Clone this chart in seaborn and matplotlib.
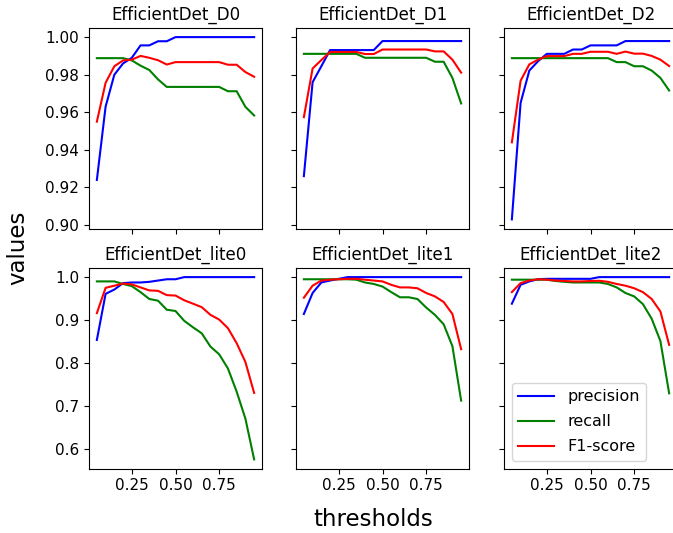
import matplotlib
matplotlib.use("Agg")
import matplotlib.pyplot as plt
import seaborn as sns
import pandas as pd

# Detection thresholds shared by every model
thresholds = [0.05, 0.10, 0.15, 0.20, 0.25, 0.30, 0.35, 0.40, 0.45, 0.50,
              0.55, 0.60, 0.65, 0.70, 0.75, 0.80, 0.85, 0.90, 0.95]

models = ["EfficientDet_D0", "EfficientDet_D1", "EfficientDet_D2",
          "EfficientDet_lite0", "EfficientDet_lite1", "EfficientDet_lite2"]
metrics = ["precision", "recall", "F1-score"]

d0_precision = [0.924, 0.963, 0.980, 0.986, 0.989, 0.9956, 0.9956, 0.9978, 0.9978, 1.0,
                1.0, 1.0, 1.0, 1.0, 1.0, 1.0, 1.0, 1.0, 1.0]
d0_recall = [0.9888, 0.9888, 0.9888, 0.9888, 0.9876, 0.9848, 0.9825, 0.9775, 0.9735, 0.9735,
             0.9735, 0.9735, 0.9735, 0.9735, 0.9735, 0.9712, 0.9712, 0.9629, 0.9583]
d0_f1 = [0.955, 0.9757, 0.9845, 0.9876, 0.988, 0.990, 0.989, 0.9877, 0.9854, 0.9867,
         0.9867, 0.9867, 0.9867, 0.9867, 0.9867, 0.9853, 0.9853, 0.9814, 0.9789]

d1_precision = [0.926, 0.976, 0.9845, 0.9931, 0.9931, 0.9931, 0.9931, 0.9931, 0.9931, 0.9979,
                0.9979, 0.9979, 0.9979, 0.9979, 0.9979, 0.9979, 0.9979, 0.9979, 0.9979]
d1_recall = [0.9911, 0.9911, 0.9911, 0.9911, 0.9911, 0.9911, 0.9911, 0.9890, 0.9890, 0.9890,
             0.9890, 0.9890, 0.9890, 0.9890, 0.9890, 0.9869, 0.9869, 0.9783, 0.9647]
d1_f1 = [0.9574, 0.9833, 0.9878, 0.9921, 0.9921, 0.9921, 0.9921, 0.9910, 0.9910, 0.9934,
         0.9934, 0.9934, 0.9934, 0.9934, 0.9934, 0.9924, 0.9924, 0.9880, 0.9811]

d2_precision = [0.903, 0.965, 0.9822, 0.9872, 0.9911, 0.9911, 0.9911, 0.9934, 0.9934, 0.9956,
                0.9956, 0.9956, 0.9956, 0.9979, 0.9979, 0.9979, 0.9979, 0.9979, 0.9979]
d2_recall = [0.9888, 0.9888, 0.9888, 0.9888, 0.9888, 0.9888, 0.9888, 0.9888, 0.9888, 0.9888,
             0.9888, 0.9888, 0.9867, 0.9867, 0.9845, 0.9845, 0.9822, 0.9783, 0.9716]
d2_f1 = [0.9440, 0.9768, 0.9855, 0.9880, 0.9899, 0.9899, 0.9899, 0.9911, 0.9911, 0.9922,
         0.9922, 0.9922, 0.9911, 0.9923, 0.9912, 0.9912, 0.9900, 0.9880, 0.9846]

lite0_precision = [0.8535, 0.961, 0.971, 0.986, 0.9875, 0.9875, 0.989, 0.992, 0.995, 0.995,
                   1.0, 1.0, 1.0, 1.0, 1.0, 1.0, 1.0, 1.0, 1.0]
lite0_recall = [0.990, 0.990, 0.990, 0.984, 0.979, 0.965, 0.949, 0.945, 0.924, 0.921,
                0.898, 0.883, 0.869, 0.838, 0.820, 0.787, 0.733, 0.670, 0.575]
lite0_f1 = [0.916, 0.975, 0.980, 0.985, 0.983, 0.976, 0.969, 0.968, 0.958, 0.957,
            0.946, 0.938, 0.930, 0.912, 0.901, 0.881, 0.846, 0.802, 0.730]

lite1_precision = [0.914, 0.963, 0.9875, 0.992, 0.996, 1.0, 1.0, 1.0, 1.0, 1.0,
                   1.0, 1.0, 1.0, 1.0, 1.0, 1.0, 1.0, 1.0, 1.0]
lite1_recall = [0.995, 0.995, 0.995, 0.995, 0.995, 0.995, 0.994, 0.9875, 0.984, 0.978,
                0.965, 0.953, 0.953, 0.949, 0.929, 0.912, 0.890, 0.839, 0.712]
lite1_f1 = [0.952, 0.980, 0.992, 0.994, 0.995, 0.996, 0.996, 0.994, 0.992, 0.990,
            0.982, 0.976, 0.976, 0.974, 0.963, 0.955, 0.942, 0.914, 0.832]

lite2_precision = [0.938, 0.982, 0.990, 0.995, 0.996, 0.996, 0.996, 0.996, 0.996, 0.996,
                   1.0, 1.0, 1.0, 1.0, 1.0, 1.0, 1.0, 1.0, 1.0]
lite2_recall = [0.994, 0.994, 0.994, 0.994, 0.994, 0.991, 0.989, 0.9875, 0.9875, 0.9875,
                0.9875, 0.984, 0.976, 0.963, 0.955, 0.937, 0.903, 0.851, 0.729]
lite2_f1 = [0.965, 0.986, 0.992, 0.995, 0.994, 0.992, 0.991, 0.990, 0.990, 0.991,
            0.9915, 0.989, 0.984, 0.980, 0.974, 0.965, 0.949, 0.920, 0.842]

scores = {
    "EfficientDet_D0": (d0_precision, d0_recall, d0_f1),
    "EfficientDet_D1": (d1_precision, d1_recall, d1_f1),
    "EfficientDet_D2": (d2_precision, d2_recall, d2_f1),
    "EfficientDet_lite0": (lite0_precision, lite0_recall, lite0_f1),
    "EfficientDet_lite1": (lite1_precision, lite1_recall, lite1_f1),
    "EfficientDet_lite2": (lite2_precision, lite2_recall, lite2_f1),
}

rows = []
for model, series in scores.items():
    for metric, values in zip(metrics, series):
        for t, v in zip(thresholds, values):
            rows.append({"model": model, "metric": metric, "threshold": t, "value": v})
df = pd.DataFrame(rows)

plt.rcParams.update({
    "xtick.labelsize": 11,
    "ytick.labelsize": 11,
    "axes.titlesize": 12,
    "legend.fontsize": 11.5,
    "legend.labelspacing": 0.62,
    "legend.handlelength": 2.25,
    "lines.linewidth": 1.5,
})

palette = {"precision": "blue", "recall": "green", "F1-score": "red"}

W, H = 673, 533
fig, axes = plt.subplots(2, 3, figsize=(W / 100, H / 100), dpi=100,
                         sharex=True, sharey="row")

col_left = [89, 296, 504]
row_top = [28, 268]
ax_w, ax_h = 173, 200.5

for i, model in enumerate(models):
    r, c = divmod(i, 3)
    ax = axes[r, c]
    ax.set_position([col_left[c] / W, 1 - (row_top[r] + ax_h) / H, ax_w / W, ax_h / H])
    sns.lineplot(data=df[df["model"] == model], x="threshold", y="value",
                 hue="metric", hue_order=metrics, palette=palette,
                 ax=ax, legend=(i == len(models) - 1))
    ax.set_title(model)
    ax.set_xlabel("")
    ax.set_ylabel("")
    ax.set_xticks([0.25, 0.50, 0.75])

sns.move_legend(axes[1, 2], "lower left", title=None)

fig.text(372.8 / W, 7 / H, "thresholds", fontsize=16.5, ha="center", va="baseline")
fig.text(24 / W, 1 - 247.5 / H, "values", fontsize=16.5, rotation=90,
         rotation_mode="anchor", ha="center", va="baseline")

fig.savefig("out.png", dpi=100)
